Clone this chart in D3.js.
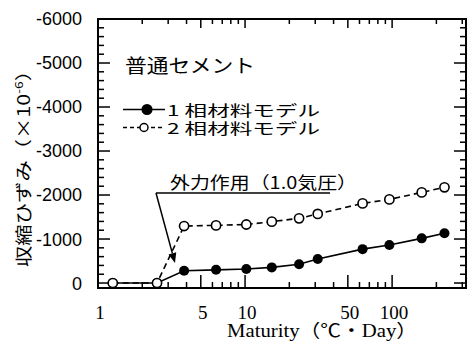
<!DOCTYPE html>
<html>
<head>
<meta charset="utf-8">
<script src="https://cdn.jsdelivr.net/npm/d3@7"></script>
<style>
  body { margin: 0; background: #fff; }
</style>
</head>
<body>
<div id="chart"></div>
<script>
// maturity (℃・Day) and shrinkage strain (x10^-6)
var maturity = [1.26, 2.52, 3.85, 6.35, 10.2, 15.2, 23.3, 31.2, 63, 95.8, 159, 227];
var onePhase = [0, 0, -280, -300, -320, -355, -425, -545, -770, -865, -1015, -1130];
var twoPhase = [0, 0, -1295, -1310, -1330, -1395, -1470, -1570, -1810, -1900, -2060, -2175];
var yTicks = [0, -1000, -2000, -3000, -4000, -5000, -6000];
var xTickLabels = [1, 5, 10, 50, 100];
var seriesNames = ["1 相材料モデル", "2 相材料モデル"];

var W = 472, H = 349;
var svg = d3.select("#chart").append("svg")
    .attr("width", W)
    .attr("height", H);

// plot box (note: "top" is taken by window.top)
var pl = 98, pr = 466, pt = 19, pb = 288;

var x = d3.scaleLog().domain([1, 318]).range([pl, pr]);
var y = d3.scaleLinear().domain([113, -6000]).range([pb, pt]);

var cjk = "'Noto Sans CJK JP', sans-serif";

// minor/major ticks
var logTicks = [];
[1, 10, 100].forEach(function(d) {
  for (var k = 1; k < 10; k++) {
    var v = d * k;
    if (v > 1 && v < 318) logTicks.push(v);
  }
});
function bigTick(v) { return v == 5 || v == 10 || v == 50 || v == 100; }

var yMinor = d3.range(0, -6001, -200);

var g = svg.append("g").attr("stroke", "#000").attr("stroke-width", 1.5);

g.selectAll(".tb").data(logTicks).enter().append("line")
    .attr("x1", function(d) { return x(d); })
    .attr("x2", function(d) { return x(d); })
    .attr("y1", pb)
    .attr("y2", function(d) { return pb - (bigTick(d) ? 13 : 6); });
g.selectAll(".tt").data(logTicks).enter().append("line")
    .attr("x1", function(d) { return x(d); })
    .attr("x2", function(d) { return x(d); })
    .attr("y1", pt)
    .attr("y2", function(d) { return pt + (bigTick(d) ? 9 : 5); });

g.selectAll(".tl").data(yMinor).enter().append("line")
    .attr("x1", pl)
    .attr("x2", function(d) { return pl + (d % 1000 == 0 ? 12 : 6); })
    .attr("y1", function(d) { return y(d); })
    .attr("y2", function(d) { return y(d); });
g.selectAll(".tr").data(yMinor).enter().append("line")
    .attr("x1", pr)
    .attr("x2", function(d) { return pr - (d % 1000 == 0 ? 12 : 6); })
    .attr("y1", function(d) { return y(d); })
    .attr("y2", function(d) { return y(d); });

svg.append("rect")
    .attr("x", pl).attr("y", pt)
    .attr("width", pr - pl).attr("height", pb - pt)
    .attr("fill", "none").attr("stroke", "#000").attr("stroke-width", 2);

// tick labels
svg.selectAll(".yl").data(yTicks).enter().append("text")
    .attr("x", 82)
    .attr("y", function(d) { return y(d); })
    .attr("dy", "0.36em")
    .attr("text-anchor", "end")
    .attr("font-family", "'Liberation Sans', sans-serif")
    .attr("font-size", 18)
    .text(function(d) { return String(d); });

svg.selectAll(".xl").data(xTickLabels).enter().append("text")
    .attr("x", function(d) { return x(d) + 2; })
    .attr("y", 319)
    .attr("text-anchor", "middle")
    .attr("font-family", "'Liberation Serif', serif")
    .attr("font-size", 19)
    .text(function(d) { return d; });

svg.append("text")
    .attr("x", 227).attr("y", 337)
    .attr("textLength", 190).attr("lengthAdjust", "spacingAndGlyphs")
    .attr("font-family", "'Liberation Serif', 'Noto Sans CJK JP', serif")
    .attr("font-size", 18)
    .text("Maturity（℃・Day）");

var yt = svg.append("text")
    .attr("transform", "translate(30,267) rotate(-90)")
    .attr("textLength", 207).attr("lengthAdjust", "spacingAndGlyphs")
    .attr("font-family", cjk)
    .attr("font-size", 17);
yt.append("tspan").text("収縮ひずみ（×10");
yt.append("tspan").attr("font-size", 11).attr("dy", -7).text("-6");
yt.append("tspan").attr("dy", 7).text("）");

// lines and points
var line = d3.line()
    .x(function(d) { return x(d[0]); })
    .y(function(d) { return y(d[1]); });

var pts1 = maturity.map(function(m, i) { return [m, onePhase[i]]; });
var pts2 = maturity.map(function(m, i) { return [m, twoPhase[i]]; });

svg.append("path").datum(pts1)
    .attr("d", line).attr("fill", "none")
    .attr("stroke", "#000").attr("stroke-width", 1.6);
svg.selectAll(".p1").data(pts1).enter().append("circle")
    .attr("cx", function(d) { return x(d[0]); })
    .attr("cy", function(d) { return y(d[1]); })
    .attr("r", 5).attr("fill", "#000");

svg.append("path").datum(pts2)
    .attr("d", line).attr("fill", "none")
    .attr("stroke", "#000").attr("stroke-width", 1.6)
    .attr("stroke-dasharray", "6,4");
svg.selectAll(".p2").data(pts2).enter().append("circle")
    .attr("cx", function(d) { return x(d[0]); })
    .attr("cy", function(d) { return y(d[1]); })
    .attr("r", 4.6).attr("fill", "#fff")
    .attr("stroke", "#000").attr("stroke-width", 1.6);

// annotation
svg.append("text")
    .attr("x", 170).attr("y", 189)
    .attr("textLength", 187).attr("lengthAdjust", "spacingAndGlyphs")
    .attr("font-family", cjk).attr("font-size", 17)
    .text("外力作用（1.0気圧）");

var ax = 156, ay = 193, tipX = 175, tipY = 263;
svg.append("line")
    .attr("x1", ax).attr("y1", ay).attr("x2", 330).attr("y2", ay)
    .attr("stroke", "#000").attr("stroke-width", 1.5);
var ang = Math.atan2(tipY - ay, tipX - ax);
var hl = 10, hw = 4;
var bx = tipX - hl * Math.cos(ang), by = tipY - hl * Math.sin(ang);
svg.append("line")
    .attr("x1", ax).attr("y1", ay).attr("x2", bx).attr("y2", by)
    .attr("stroke", "#000").attr("stroke-width", 1.5);
svg.append("path")
    .attr("d", "M" + tipX + "," + tipY +
      "L" + (bx + hw * Math.sin(ang)) + "," + (by - hw * Math.cos(ang)) +
      "L" + (bx - hw * Math.sin(ang)) + "," + (by + hw * Math.cos(ang)) + "Z")
    .attr("fill", "#000");

// label + legend
svg.append("text")
    .attr("x", 125).attr("y", 73)
    .attr("textLength", 130).attr("lengthAdjust", "spacingAndGlyphs")
    .attr("font-family", cjk).attr("font-size", 19)
    .text("普通セメント");

var leg = svg.selectAll(".leg").data(seriesNames).enter().append("g")
    .attr("transform", function(d, i) { return "translate(0," + (109.5 + i * 18) + ")"; });
leg.append("line")
    .attr("x1", 123).attr("x2", 165)
    .attr("stroke", "#000").attr("stroke-width", 1.6)
    .attr("stroke-dasharray", function(d, i) { return i ? "4,3" : null; });
leg.append("circle")
    .attr("cx", function(d, i) { return i ? 144 : 147; })
    .attr("r", function(d, i) { return i ? 4 : 4.8; })
    .attr("fill", function(d, i) { return i ? "#fff" : "#000"; })
    .attr("stroke", "#000").attr("stroke-width", 1.5);
leg.append("text")
    .attr("x", 167).attr("y", 6)
    .attr("textLength", 153).attr("lengthAdjust", "spacingAndGlyphs")
    .attr("font-family", cjk).attr("font-size", 15)
    .text(function(d) { return d; });
</script>
</body>
</html>
